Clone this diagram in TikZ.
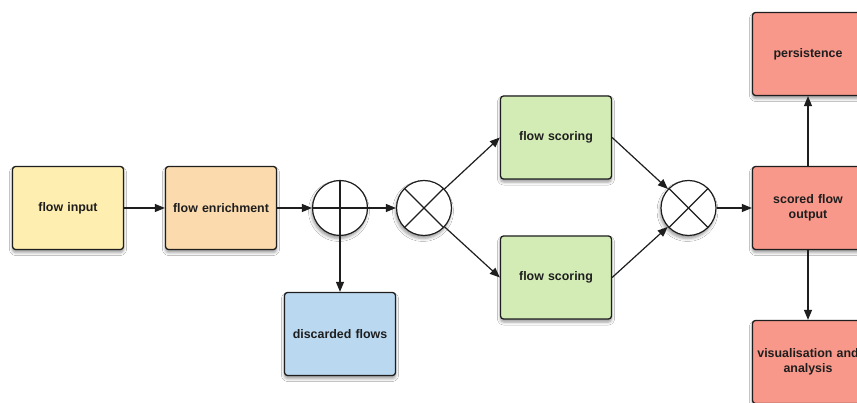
\documentclass[tikz,border=0pt]{standalone}
\usepackage{fontspec}
\setmainfont{Liberation Sans}
\usetikzlibrary{arrows.meta,shadows.blur}

\definecolor{inputfill}{RGB}{254,238,176}
\definecolor{enrichfill}{RGB}{251,219,174}
\definecolor{discardfill}{RGB}{186,216,240}
\definecolor{scorefill}{RGB}{211,236,182}
\definecolor{outfill}{RGB}{248,152,138}
\definecolor{ink}{RGB}{30,30,30}

\begin{document}
\begin{tikzpicture}[x=1pt,y=-1pt,
  box/.style={draw=ink, line width=1.3pt, rounded corners=3pt,
    minimum width=111pt, minimum height=83pt, text width=102pt,
    inner sep=2pt, align=center, text=ink,
    font=\fontsize{12.4}{14.5}\selectfont\bfseries,
    blur shadow={shadow xshift=0pt, shadow yshift=-3pt,
      shadow blur radius=3pt, shadow opacity=40}},
  junction/.style={circle, draw=ink, line width=1.2pt, fill=white,
    minimum size=55pt, inner sep=0pt,
    blur shadow={shadow xshift=-1pt, shadow yshift=-3pt,
      shadow blur radius=3pt, shadow opacity=40}},
  link/.style={draw=ink, line width=1.2pt, -{Triangle[length=10pt,width=8pt]}},
  cross/.style={draw=ink, line width=1.2pt}]

\clip (0,0) rectangle (857,403);
\fill[white] (0,0) rectangle (857,403);

% processing boxes
\node[box, fill=inputfill]   (input)   at (68,208)    {flow input};
\node[box, fill=enrichfill]  (enrich)  at (221,208)   {flow enrichment};
\node[box, fill=discardfill] (discard) at (340,334)   {discarded flows};
\node[box, fill=scorefill]   (scoreA)  at (556,137.5) {flow scoring};
\node[box, fill=scorefill]   (scoreB)  at (556,277.5) {flow scoring};
\node[box, fill=outfill]     (persist) at (808,54)    {persistence};
\node[box, fill=outfill]     (output)  at (808,208)   {scored flow\\output};
\node[box, fill=outfill]     (visual)  at (808,362)   {visualisation and\\analysis};

% junctions
\node[junction] (filter) at (340,208) {};
\node[junction] (split)  at (424,208) {};
\node[junction] (merge)  at (688.5,208) {};

\draw[cross] (filter.north) -- (filter.south);
\draw[cross] (filter.west) -- (filter.east);
\draw[cross] (split.north west) -- (split.south east);
\draw[cross] (split.north east) -- (split.south west);
\draw[cross] (merge.north west) -- (merge.south east);
\draw[cross] (merge.north east) -- (merge.south west);

% connectors
\draw[link] (input) -- (enrich);
\draw[link] (enrich) -- (filter);
\draw[link] (filter) -- (split);
\draw[link] (filter) -- (discard);
\draw[link] (split) -- (scoreA.west);
\draw[link] (split) -- (scoreB.west);
\draw[link] (scoreA.east) -- (merge);
\draw[link] (scoreB.east) -- (merge);
\draw[link] (merge) -- (output);
\draw[link] (output) -- (persist);
\draw[link] (output) -- (visual);

\end{tikzpicture}
\end{document}
